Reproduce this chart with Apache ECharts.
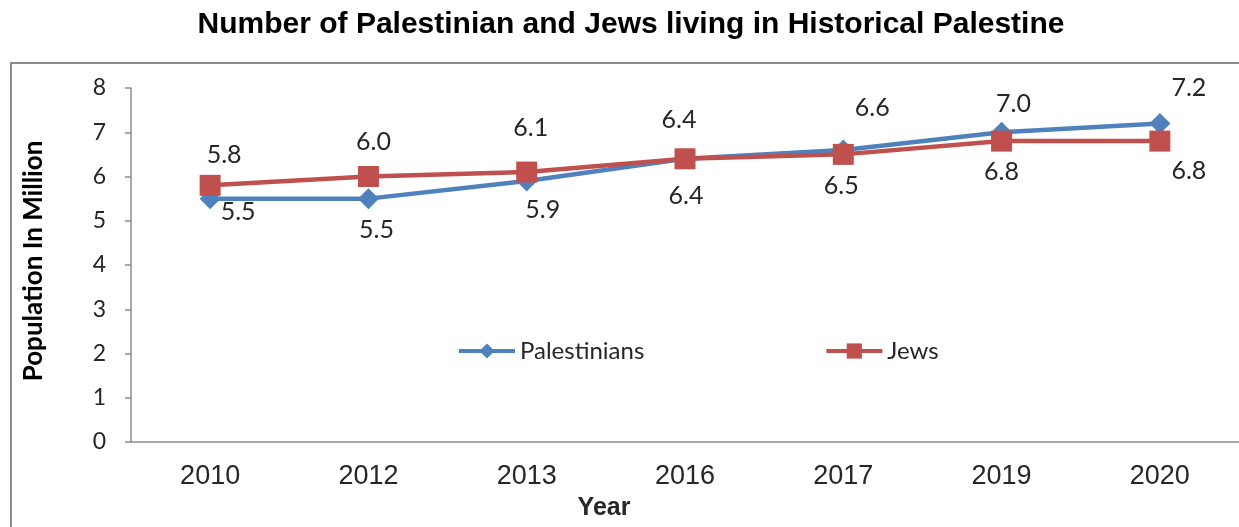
<!DOCTYPE html>
<html>
<head>
<meta charset="utf-8">
<script src="https://cdn.jsdelivr.net/npm/echarts@6/dist/echarts.min.js"></script>
<style>
  html, body { margin: 0; padding: 0; background: #fff; }
  #chart { width: 1239px; height: 527px; }
</style>
</head>
<body>
<div id="chart"></div>
<script>
// values
let years = ["2010", "2012", "2013", "2016", "2017", "2019", "2020"];
let palestinians = [5.5, 5.5, 5.9, 6.4, 6.6, 7.0, 7.2];
let jews = [5.8, 6.0, 6.1, 6.4, 6.5, 6.8, 6.8];
let yTicks = [0, 1, 2, 3, 4, 5, 6, 7, 8];

// label offsets (style only)
let palOffsets = [[28, 13], [8, 31], [16, 29], [1, 37], [29, -42], [12, -28], [29, -35]];
let jewOffsets = [[14, -30], [5, -35], [4, -44], [-6, -39], [-2, 32], [0, 31], [29, 30]];

let V = {};

V.withLabels = function(values, offsets){
  return values.map((v, i) => ({
    value: v,
    label: { offset: offsets[i] }
  }));
}

V.render = function(){
  var dom = document.querySelector("#chart");
  var myChart = echarts.init(dom, null, { renderer: 'canvas' });
  var labelStyle = {
    show: true,
    position: 'inside',
    fontFamily: 'Lato',
    fontSize: 25,
    color: '#262626',
    formatter: p => p.value.toFixed(1)
  };
  var option = {
    animation: false,
    title: {
      text: 'Number of Palestinian and Jews living in Historical Palestine',
      left: 626,
      textAlign: 'center',
      top: 5,
      textStyle: { fontFamily: 'Liberation Sans', fontWeight: 'bold', fontSize: 30, color: '#000' }
    },
    graphic: [{
      type: 'rect',
      shape: { x: 11, y: 63, width: 1240, height: 480 },
      style: { fill: 'none', stroke: '#8c8c8c', lineWidth: 2 }
    }],
    legend: {
      left: 452,
      top: 334,
      itemWidth: 56,
      itemHeight: 19,
      itemGap: 180,
      lineStyle: { width: 4 },
      textStyle: { fontFamily: 'Lato', fontSize: 24, color: '#262626' },
      data: ['Palestinians', 'Jews']
    },
    grid: { left: 131, right: -1, top: 88, bottom: 85 },
    xAxis: {
      type: 'category',
      data: years,
      name: 'Year',
      nameLocation: 'middle',
      nameGap: 54,
      nameTextStyle: { fontFamily: 'Liberation Sans', fontWeight: 'bold', fontSize: 25, color: '#262626', padding: [0, 162, 0, 0] },
      axisLine: { lineStyle: { color: '#8c8c8c', width: 1.5 } },
      axisTick: { length: 7, lineStyle: { color: '#8c8c8c', width: 1.5 } },
      axisLabel: { margin: 21, fontFamily: 'Liberation Sans', fontSize: 27, color: '#262626' }
    },
    yAxis: {
      type: 'value',
      min: yTicks[0],
      max: yTicks[yTicks.length - 1],
      interval: 1,
      name: 'Population In Million',
      nameLocation: 'middle',
      nameGap: 84,
      nameTextStyle: { fontFamily: 'Lato', fontWeight: 'bold', fontSize: 26, color: '#000', padding: [0, 0, 0, 8] },
      splitLine: { show: false },
      axisLine: { show: true, lineStyle: { color: '#8c8c8c', width: 1.5 } },
      axisTick: { show: true, length: 6, lineStyle: { color: '#8c8c8c', width: 1.5 } },
      axisLabel: { margin: 25, fontFamily: 'Lato', fontSize: 23, color: '#262626' }
    },
    series: [
      {
        name: 'Palestinians',
        type: 'line',
        data: V.withLabels(palestinians, palOffsets),
        symbol: 'diamond',
        symbolSize: 21,
        itemStyle: { color: '#4F81BD' },
        lineStyle: { color: '#4F81BD', width: 4.5 },
        label: labelStyle
      },
      {
        name: 'Jews',
        type: 'line',
        data: V.withLabels(jews, jewOffsets),
        symbol: 'rect',
        symbolSize: 21,
        itemStyle: { color: '#C0504D' },
        lineStyle: { color: '#C0504D', width: 4.5 },
        label: labelStyle
      }
    ]
  };
  myChart.setOption(option);
  window.addEventListener('resize', myChart.resize);
}

V.render();
</script>
</body>
</html>
